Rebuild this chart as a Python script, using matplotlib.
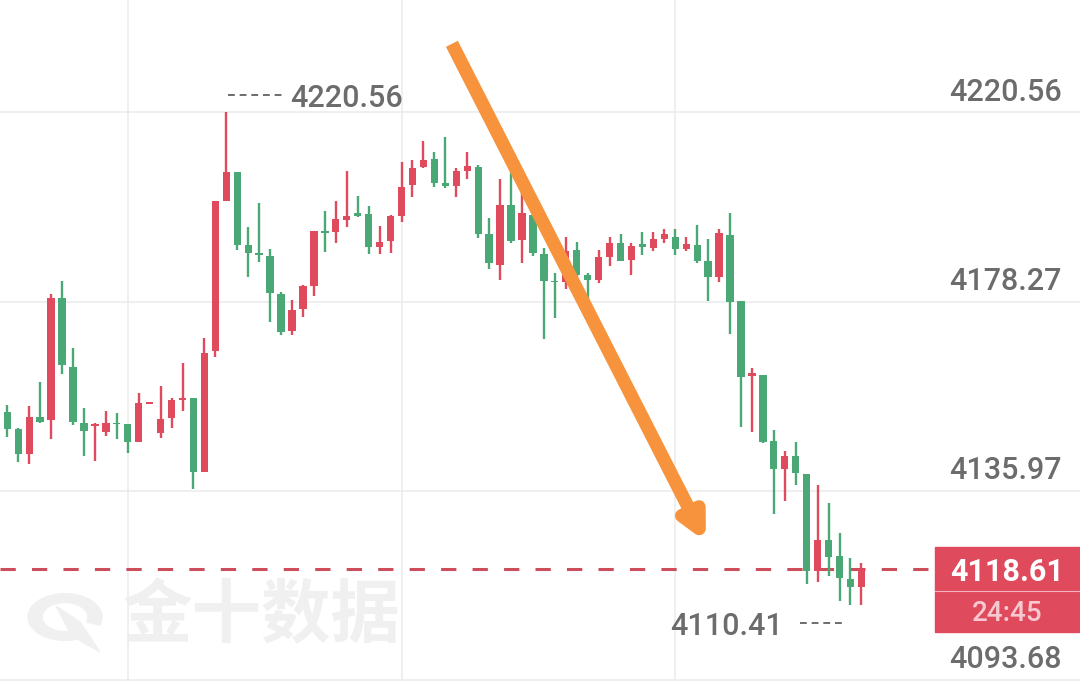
import matplotlib
matplotlib.use("Agg")
import matplotlib.pyplot as plt
from matplotlib.patches import Rectangle, Wedge, Polygon
from matplotlib.transforms import blended_transform_factory

# candle data (one bar per slot, oldest first)
opens = [4153.69, 4149.76, 4144.17, 4152.57, 4151.83, 4179.03, 4163.74, 4151.23, 4150.60, 4149.22,
         4151.23, 4150.94, 4146.99, 4155.41, 4148.86, 4152.21, 4156.30, 4156.82, 4140.15, 4167.32,
         4200.84, 4207.32, 4190.94, 4189.09, 4188.55, 4179.99, 4171.79, 4176.57, 4181.78, 4194.14,
         4193.91, 4196.53, 4198.02, 4197.80, 4190.56, 4191.90, 4197.42, 4204.35, 4208.30, 4210.09,
         4204.86, 4204.12, 4207.54, 4208.44, 4193.40, 4186.47, 4199.95, 4192.06, 4197.64, 4188.93,
         4182.96, 4182.67, 4189.93, 4184.24, 4183.01, 4188.26, 4191.32, 4187.59, 4191.10, 4190.20,
         4192.21, 4192.80, 4189.98, 4190.94, 4187.43, 4183.86, 4193.18, 4178.43, 4161.67, 4162.00,
         4147.21, 4140.82, 4143.79, 4139.77, 4118.16, 4125.02, 4121.44, 4116.24, 4114.45]
highs = [4155.19, 4150.11, 4154.96, 4160.26, 4179.99, 4182.83, 4167.86, 4154.58, 4151.10, 4153.91,
         4153.33, 4150.94, 4157.80, 4155.92, 4159.50, 4156.82, 4164.50, 4156.82, 4170.09, 4200.77,
         4220.56, 4207.32, 4194.90, 4200.26, 4189.98, 4180.50, 4178.65, 4182.00, 4194.07, 4198.54,
         4200.84, 4207.48, 4201.89, 4199.72, 4195.25, 4197.64, 4209.55, 4209.93, 4214.18, 4211.66,
         4215.14, 4208.08, 4211.79, 4208.82, 4196.91, 4205.69, 4207.25, 4202.56, 4200.50, 4190.27,
         4184.75, 4192.84, 4191.61, 4184.75, 4189.76, 4192.80, 4193.40, 4191.45, 4193.78, 4193.78,
         4194.52, 4194.45, 4192.80, 4195.41, 4192.21, 4194.45, 4198.16, 4178.43, 4163.39, 4162.00,
         4149.49, 4144.91, 4146.85, 4139.77, 4137.31, 4133.35, 4126.65, 4120.93, 4119.81]
lows = [4148.10, 4142.52, 4141.93, 4151.23, 4147.52, 4162.11, 4150.72, 4143.79, 4142.67, 4148.26,
        4147.59, 4144.39, 4146.99, 4155.41, 4147.88, 4150.11, 4153.91, 4136.41, 4140.15, 4165.85,
        4200.84, 4189.82, 4183.72, 4187.21, 4173.80, 4170.83, 4170.83, 4174.78, 4179.54, 4189.44,
        4191.32, 4195.03, 4197.13, 4188.93, 4188.93, 4189.22, 4196.15, 4201.60, 4208.08, 4203.83,
        4203.61, 4201.60, 4205.62, 4192.44, 4185.51, 4183.12, 4191.32, 4186.85, 4188.48, 4169.89,
        4174.56, 4181.00, 4183.79, 4178.65, 4182.56, 4186.25, 4187.43, 4184.24, 4188.71, 4189.67,
        4191.45, 4188.71, 4189.60, 4186.85, 4178.49, 4182.74, 4170.99, 4150.23, 4149.15, 4146.63,
        4130.83, 4133.73, 4137.31, 4115.12, 4115.57, 4116.97, 4111.39, 4110.41, 4110.60]
closes = [4149.76, 4144.24, 4152.57, 4151.45, 4179.03, 4164.12, 4151.45, 4149.38, 4150.90, 4151.23,
          4150.94, 4146.99, 4155.57, 4155.92, 4152.06, 4156.30, 4156.82, 4140.28, 4166.87, 4200.77,
          4207.32, 4190.94, 4189.09, 4188.71, 4180.15, 4171.57, 4176.42, 4181.78, 4194.07, 4193.69,
          4196.68, 4197.49, 4197.42, 4190.56, 4191.68, 4197.42, 4203.97, 4208.21, 4209.93, 4204.73,
          4204.12, 4207.48, 4208.59, 4193.40, 4186.99, 4199.88, 4191.90, 4198.16, 4189.09, 4182.90,
          4182.67, 4189.71, 4184.24, 4183.23, 4188.15, 4191.32, 4187.43, 4190.72, 4190.56, 4192.21,
          4193.33, 4189.98, 4191.10, 4187.43, 4183.86, 4193.55, 4178.27, 4161.38, 4162.27, 4146.85,
          4140.82, 4143.86, 4139.92, 4118.16, 4125.02, 4121.15, 4116.46, 4114.45, 4118.61]

price_ticks = [4220.56, 4178.27, 4135.97, 4093.68]
grid_slots = [11, 36, 61]
last_price = 4118.61
countdown = "24:45"
high_slot, high_price = 20, 4220.56
low_slot, low_price = 77, 4110.41
arrow_from = (40.6, 4235.9)
arrow_to = (63.8, 4124.6)
watermark = "金十数据"

UP = "#DF4A5C"
DOWN = "#4AA776"
GRID = "#EBEBEB"
LABEL = "#6C6C6C"
NUM_FONT = ["Roboto", "DejaVu Sans"]

W, H = 1080, 681
fig = plt.figure(figsize=(W / 100, H / 100), dpi=100)
ax = fig.add_axes([0, 0, 1, 1])
ax.set_xlim(-0.667, 97.96)
ax.set_ylim(4093.51, 4245.69)
ax.axis("off")
upp = (4245.69 - 4093.51) / H  # price units per pixel
trans = blended_transform_factory(ax.transAxes, ax.transData)

# grid
for p in price_ticks:
    ax.axhline(p, color=GRID, lw=1.1, zorder=0.6)
for s in grid_slots:
    ax.axvline(s, color=GRID, lw=1.1, zorder=0.6)

# watermark
wm_col = "#F0F0F0"
ax.text(262 / W, 1 - 617 / H, watermark, transform=fig.transFigure, ha="center", va="center",
        fontsize=50, fontweight="bold", color=wm_col, family="Noto Sans CJK SC", zorder=0.5)
ax.add_patch(Wedge((65 / W, 1 - 617 / H), 37 / W, -20, 300, width=14 / W,
                   transform=fig.transFigure, color=wm_col, zorder=0.5))
ax.add_patch(Polygon([(56 / W, 1 - 606 / H), (80 / W, 1 - 622 / H), (100 / W, 1 - 652 / H),
                      (72 / W, 1 - 636 / H)], closed=True, transform=fig.transFigure,
                     color=wm_col, zorder=0.5))

# candles
for i, (o, h, l, c) in enumerate(zip(opens, highs, lows, closes)):
    col = UP if c >= o else DOWN
    ax.vlines(i, l, h, color=col, lw=1.7, zorder=2)
    ax.bar(i, max(abs(c - o), 0.3), bottom=min(o, c), width=0.67, color=col, zorder=3)

# last price line and tag
ax.axhline(last_price, xmin=0, xmax=935 / W, color="#CC4E5C", lw=2.2,
           ls=(0, (5, 5.3)), zorder=1.5)
ax.add_patch(Rectangle((935 / W, last_price - 63 * upp), 144 / W, 84.5 * upp,
                       transform=trans, color=UP, zorder=4))
ax.plot([935 / W, 1079 / W], [last_price - 22 * upp] * 2, transform=trans,
        color="#F2B3BD", lw=0.8, zorder=5)
ax.annotate(f"{last_price:.2f}", xy=(1007 / W, last_price), xycoords=trans,
            xytext=(0, -9), textcoords="offset points", ha="center", va="baseline",
            fontsize=22, fontweight="bold", color="white", family=NUM_FONT, zorder=6)
ax.annotate(countdown, xy=(1007 / W, last_price), xycoords=trans,
            xytext=(0, -38), textcoords="offset points", ha="center", va="baseline",
            fontsize=20, fontweight="medium", color="#F8C8D0", family=NUM_FONT, zorder=6)

# price axis labels
for p in price_ticks:
    ax.annotate(f"{p:.2f}", xy=(1062 / W, p), xycoords=trans, xytext=(0, 8.6),
                textcoords="offset points", ha="right", va="baseline",
                fontsize=22, fontweight="medium", color=LABEL, family=NUM_FONT)

# high / low markers
spx = 10.95  # pixels per slot
ax.plot([high_slot + 2 / spx, high_slot + 59 / spx], [high_price + 17 * upp] * 2,
        color=LABEL, lw=1.4, ls=(0, (3.5, 2.5)))
ax.annotate(f"{high_price:.2f}", xy=(high_slot, high_price), xytext=(46, 4),
            textcoords="offset points", ha="left", va="baseline",
            fontsize=22, fontweight="medium", color=LABEL, family=NUM_FONT)
ax.plot([low_slot - 50 / spx, low_slot - 7 / spx], [low_price - 18 * upp] * 2,
        color=LABEL, lw=1.4, ls=(0, (3.5, 2.5)))
ax.annotate(f"{low_price:.2f}", xy=(low_slot, low_price), xytext=(-49, -21.5),
            textcoords="offset points", ha="right", va="baseline",
            fontsize=22, fontweight="medium", color=LABEL, family=NUM_FONT)

# trend arrow
ax.annotate("", xy=arrow_to, xytext=arrow_from,
            arrowprops=dict(arrowstyle="-|>,head_length=0.7,head_width=0.35",
                            mutation_scale=20, lw=9.6, color="#F7933C",
                            shrinkA=0, shrinkB=0, capstyle="butt"),
            zorder=7)

fig.savefig("out.png", dpi=100)
